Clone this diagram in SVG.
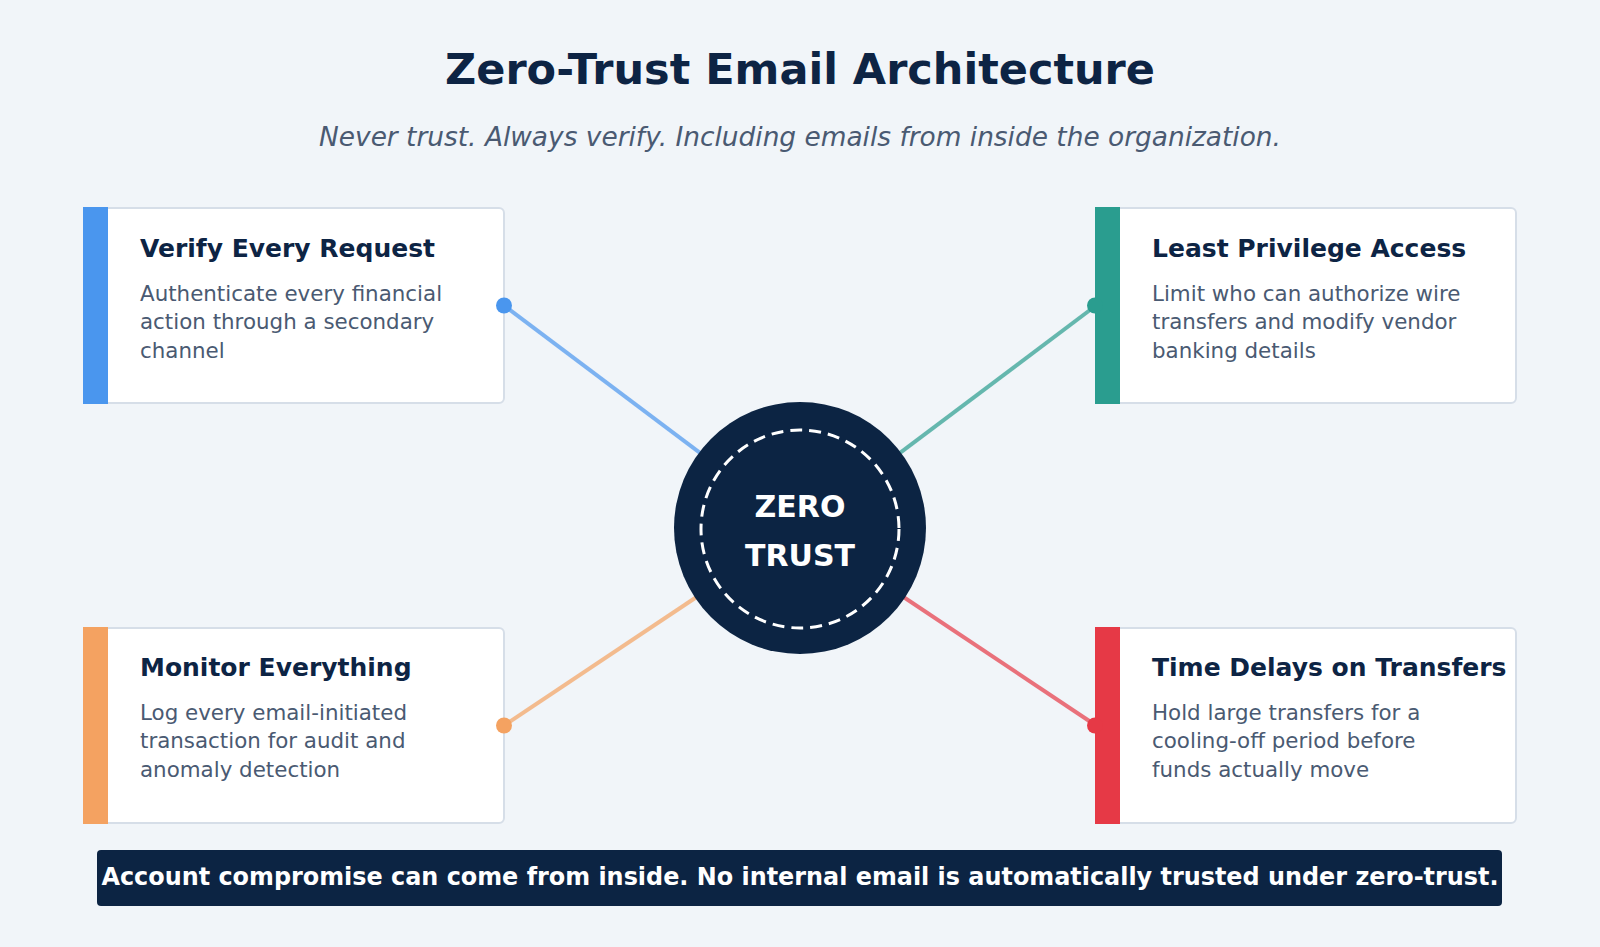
<svg xmlns="http://www.w3.org/2000/svg" width="1600" height="947" viewBox="0 0 1600 947">
<style>
.bg{fill:#f1f5f9}
.card{fill:#ffffff;stroke:#d6dee8;stroke-width:2}
.ct{font-family:"DejaVu Sans",sans-serif;font-weight:bold;font-size:25px;fill:#0d2444}
.cd{font-family:"DejaVu Sans",sans-serif;font-size:21.4px;fill:#4a5a72}
.conn{stroke-width:4;stroke-opacity:0.7;fill:none}
.title{font-family:"DejaVu Sans",sans-serif;font-weight:bold;font-size:43px;fill:#0d2444}
.sub{font-family:"DejaVu Sans",sans-serif;font-style:italic;font-size:26.4px;fill:#4a5a72}
.hub{font-family:"DejaVu Sans",sans-serif;font-weight:bold;font-size:30px;fill:#ffffff}
.ban{font-family:"DejaVu Sans",sans-serif;font-weight:bold;font-size:23.9px;fill:#ffffff}
</style>
<rect class="bg" x="0" y="0" width="1600" height="947"/>
<text class="title" x="800" y="84" text-anchor="middle">Zero-Trust Email Architecture</text>
<text class="sub" x="800" y="146" text-anchor="middle">Never trust. Always verify. Including emails from inside the organization.</text>
<g id="connectors">
<line class="conn" x1="504" y1="305.5" x2="800" y2="528" stroke="#4a96ee"/>
<line class="conn" x1="1096" y1="305.5" x2="800" y2="528" stroke="#2a9d8f"/>
<line class="conn" x1="504" y1="725.5" x2="800" y2="528" stroke="#f4a261"/>
<line class="conn" x1="1096" y1="725.5" x2="800" y2="528" stroke="#e63946"/>
</g>
<g id="card-verify">
<rect class="card" x="84" y="208" width="420" height="195" rx="5"/>
<rect x="83" y="207" width="25" height="197" fill="#4a96ee"/>
<text class="ct" x="140" y="257">Verify Every Request</text>
<text class="cd" x="140" y="301">Authenticate every financial</text>
<text class="cd" x="140" y="329">action through a secondary</text>
<text class="cd" x="140" y="358">channel</text>
<circle cx="504" cy="305.5" r="8" fill="#4a96ee"/>
</g>
<g id="card-least">
<rect class="card" x="1096" y="208" width="420" height="195" rx="5"/>
<rect x="1095" y="207" width="25" height="197" fill="#2a9d8f"/>
<text class="ct" x="1152" y="257">Least Privilege Access</text>
<text class="cd" x="1152" y="301">Limit who can authorize wire</text>
<text class="cd" x="1152" y="329">transfers and modify vendor</text>
<text class="cd" x="1152" y="358">banking details</text>
<circle cx="1095" cy="305.5" r="8" fill="#2a9d8f"/>
</g>
<g id="card-monitor">
<rect class="card" x="84" y="628" width="420" height="195" rx="5"/>
<rect x="83" y="627" width="25" height="197" fill="#f4a261"/>
<text class="ct" x="140" y="676">Monitor Everything</text>
<text class="cd" x="140" y="720">Log every email-initiated</text>
<text class="cd" x="140" y="748">transaction for audit and</text>
<text class="cd" x="140" y="777">anomaly detection</text>
<circle cx="504" cy="725.5" r="8" fill="#f4a261"/>
</g>
<g id="card-delay">
<rect class="card" x="1096" y="628" width="420" height="195" rx="5"/>
<rect x="1095" y="627" width="25" height="197" fill="#e63946"/>
<text class="ct" x="1152" y="676">Time Delays on Transfers</text>
<text class="cd" x="1152" y="720">Hold large transfers for a</text>
<text class="cd" x="1152" y="748">cooling-off period before</text>
<text class="cd" x="1152" y="777">funds actually move</text>
<circle cx="1095" cy="725.5" r="8" fill="#e63946"/>
</g>
<g id="hub">
<circle cx="800" cy="528" r="126" fill="#0c2443"/>
<circle cx="800" cy="529" r="99" fill="none" stroke="#ffffff" stroke-width="3" stroke-dasharray="12 7"/>
<text class="hub" x="800" y="517" text-anchor="middle">ZERO</text>
<text class="hub" x="800" y="566" text-anchor="middle">TRUST</text>
</g>
<g id="banner">
<rect x="97" y="850" width="1405" height="56" rx="4" fill="#0c2443"/>
<text class="ban" x="800" y="885" text-anchor="middle">Account compromise can come from inside. No internal email is automatically trusted under zero-trust.</text>
</g>
</svg>
